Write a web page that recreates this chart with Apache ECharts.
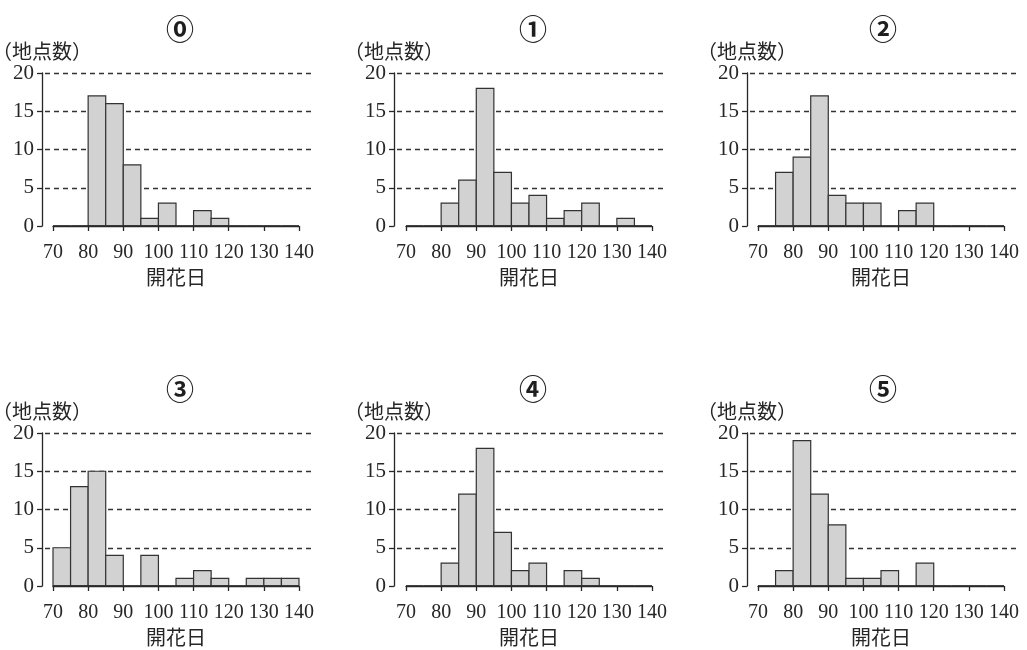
<!DOCTYPE html>
<html>
<head>
<meta charset="utf-8">
<script src="https://cdn.jsdelivr.net/npm/echarts@6/dist/echarts.min.js"></script>
<style>html,body{margin:0;padding:0;background:#fff}#c{width:1027px;height:650px}</style>
</head>
<body>
<div id="c"></div>
<script>
// bin starts (開花日), each bin 5 days wide
const binStarts = [70, 75, 80, 85, 90, 95, 100, 105, 110, 115, 120, 125, 130, 135];
const binEnds   = [75, 80, 85, 90, 95, 100, 105, 110, 115, 120, 125, 130, 135, 140];
// counts (地点数) per bin
const counts0 = [0, 0, 17, 16, 8, 1, 3, 0, 2, 1, 0, 0, 0, 0];
const counts1 = [0, 0, 3, 6, 18, 7, 3, 4, 1, 2, 3, 0, 1, 0];
const counts2 = [0, 7, 9, 17, 4, 3, 3, 0, 2, 3, 0, 0, 0, 0];
const counts3 = [5, 13, 15, 4, 0, 4, 0, 1, 2, 1, 0, 1, 1, 1];
const counts4 = [0, 0, 3, 12, 18, 7, 2, 3, 0, 2, 1, 0, 0, 0];
const counts5 = [0, 2, 19, 12, 8, 1, 1, 2, 0, 3, 0, 0, 0, 0];
const panelTitles = ['⓪', '①', '②', '③', '④', '⑤'];
const xAxisName = '開花日';
const yAxisName = '（地点数）';

const allCounts = [counts0, counts1, counts2, counts3, counts4, counts5];
const plotLeft = [53, 406, 758];
const axisX = [42, 394, 747];
const dashLeft = [45, 397, 750];
const rowTop = [73, 433];
const titleX = [175, 528, 878];
const titleY = [10, 370];

const serif = '"Liberation Serif","DejaVu Serif",serif';
const cjk = '"Noto Sans CJK JP","Noto Sans CJK SC",sans-serif';
const ink = '#262626';

const grid = [], xAxis = [], yAxis = [], series = [], title = [];
allCounts.forEach((counts, i) => {
  const c = i % 3, r = Math.floor(i / 3);
  grid.push({left: plotLeft[c], top: rowTop[r], width: 246, height: 153, outerBoundsMode: 'none', containLabel: false});
  xAxis.push({
    type: 'value', gridIndex: i, min: 70, max: 140, interval: 10, offset: 6,
    axisLine: {show: true, lineStyle: {color: ink, width: 1.3}},
    axisTick: {show: true, inside: false, length: 5, lineStyle: {color: ink, width: 1.3}},
    axisLabel: {show: true, margin: 11, color: ink, fontFamily: serif, fontSize: 20},
    splitLine: {show: false},
    name: xAxisName, nameLocation: 'middle', nameGap: 35,
    nameTextStyle: {fontFamily: cjk, fontSize: 20, color: ink}
  });
  yAxis.push({
    type: 'value', gridIndex: i, min: 0, max: 20, interval: 5,
    offset: plotLeft[c] - axisX[c],
    axisLine: {show: true, lineStyle: {color: ink, width: 1.3}},
    axisTick: {show: true, inside: false, length: 5, lineStyle: {color: ink, width: 1.3}},
    axisLabel: {show: true, margin: 8, color: ink, fontFamily: serif, fontSize: 21},
    splitLine: {show: false},
    name: yAxisName, nameLocation: 'end', nameGap: 12,
    nameTextStyle: {fontFamily: cjk, fontSize: 20, color: ink, align: 'center'}
  });
  series.push({
    type: 'custom', xAxisIndex: i, yAxisIndex: i,
    data: binStarts.map((s, k) => [s, binEnds[k], counts[k]]),
    encode: {x: [0, 1], y: 2},
    renderItem: (params, api) => {
      const x0 = api.value(0), x1 = api.value(1), v = api.value(2);
      const p0 = api.coord([x0, 0]);
      const p1 = api.coord([x1, v]);
      const children = [];
      if (v > 0) {
        children.push({type: 'rect',
          shape: {x: p0[0], y: p1[1], width: p1[0] - p0[0], height: p0[1] - p1[1]},
          style: {fill: '#d2d2d2', stroke: '#333', lineWidth: 1.2}});
      }
      children.push({type: 'line',
        shape: {x1: p0[0], y1: p0[1], x2: p1[0], y2: p0[1]},
        style: {stroke: '#2a2a2a', lineWidth: 1.7}});
      return {type: 'group', children};
    },
    z: 3, silent: true
  });
  title.push({text: panelTitles[i], left: titleX[c], top: titleY[r], textAlign: 'center',
    textStyle: {fontFamily: cjk, fontSize: 28, fontWeight: 'bold', color: '#1e1e1e'}});
});
// dashed reference lines: separate grids sharing the same 0-20 scale
allCounts.forEach((counts, i) => {
  const c = i % 3, r = Math.floor(i / 3);
  const gi = 6 + i;
  grid.push({left: dashLeft[c], top: rowTop[r], width: 266, height: 153, outerBoundsMode: 'none', containLabel: false});
  xAxis.push({type: 'value', gridIndex: gi, min: 0, max: 1, show: false});
  yAxis.push({
    type: 'value', gridIndex: gi, min: 0, max: 20, interval: 5,
    axisLine: {show: false}, axisTick: {show: false}, axisLabel: {show: false},
    splitLine: {show: true, showMinLine: false, lineStyle: {color: '#333', width: 1.3, type: [5, 4]}}
  });
});

const chart = echarts.init(document.getElementById('c'), null, {renderer: 'canvas'});
chart.setOption({animation: false, backgroundColor: '#fff', title, grid, xAxis, yAxis, series});
</script>
</body>
</html>
